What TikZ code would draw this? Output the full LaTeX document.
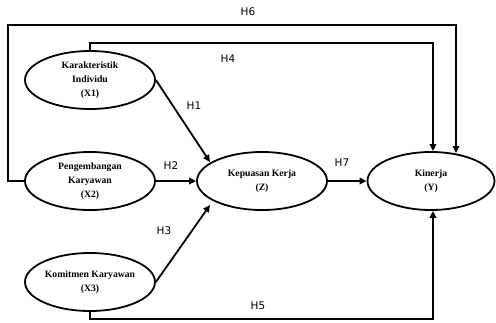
\documentclass[tikz,border=0pt]{standalone}
\usepackage{fontspec}
\setmainfont{Liberation Serif}
\newfontfamily\labfont{DejaVu Sans}
\usetikzlibrary{arrows.meta,shapes.geometric}
\begin{document}
\begin{tikzpicture}[x=1pt,y=-1pt,
  latent/.style={draw,line width=1.8pt,ellipse,minimum width=130pt,minimum height=58pt,inner sep=0pt,align=center,font=\fontsize{9.7}{13.8}\selectfont\bfseries},
  conn/.style={line width=1.8pt,-{Triangle[length=7pt,width=6.5pt]}},
  hlab/.style={font=\labfont\fontsize{10.5}{12}\selectfont}]
\useasboundingbox (0,0) rectangle (496,322);
\node[latent] (x1) at (90,80) {Karakteristik\\Individu\\(X1)};
\node[latent] (x2) at (90,181) {Pengembangan\\Karyawan\\(X2)};
\node[latent] (x3) at (90,282) {Komitmen Karyawan\\(X3)};
\node[latent] (z) at (262,181) {Kepuasan Kerja\\(Z)};
\node[latent,minimum width=127pt] (y) at (431,181) {Kinerja\\(Y)};
\coordinate (yt1) at (433,150);
\coordinate (yt2) at (456,153);
\coordinate (yb) at (433,212);
\draw[conn] (x1.north) -- (90,43) -| (yt1 |- y.north);
\draw[conn] (x2.west) -- (8,181) -- (8,25) -| (yt2);
\draw[conn] (x3.south) -- (90,319) -| (yb |- y.south);
\draw[conn] (x1.east) -- (210,162);
\draw[conn] (x3.east) -- (210,205);
\draw[conn] (x2.east) -- (z.west);
\draw[conn] (z.east) -- (y.west);
\node[hlab] (h6) at (248,12) {H6};
\node[hlab] (h4) at (228,59) {H4};
\node[hlab] (h1) at (194,106) {H1};
\node[hlab] (h2) at (171,166) {H2};
\node[hlab] (h7) at (342,163) {H7};
\node[hlab] (h3) at (164,231) {H3};
\node[hlab] (h5) at (258,306) {H5};
\end{tikzpicture}
\end{document}
